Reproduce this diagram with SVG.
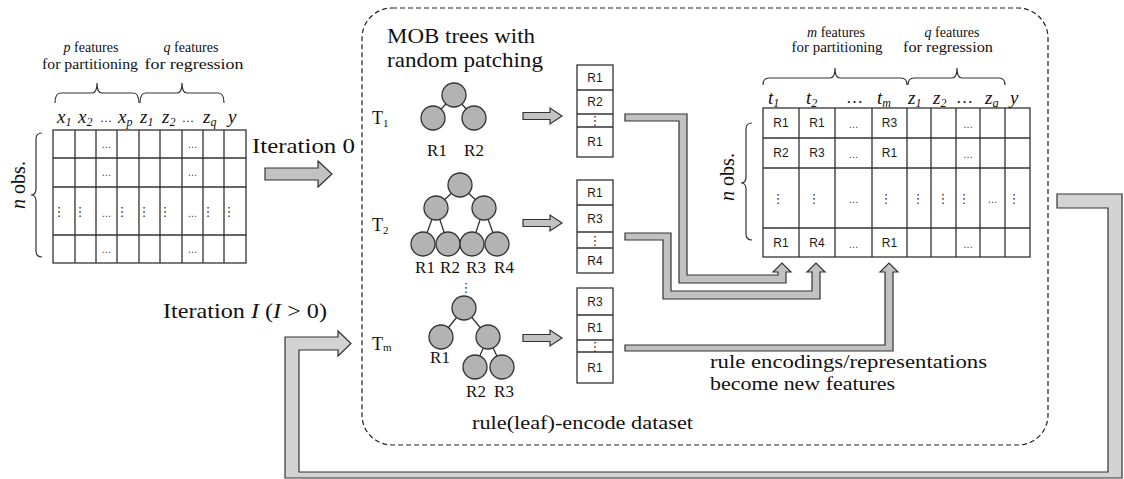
<svg xmlns="http://www.w3.org/2000/svg" width="1124" height="479" viewBox="0 0 1124 479">
<style>
.cell{fill:#fff;stroke:#333;stroke-width:1.3}
.ln{stroke:#333;stroke-width:1.3;fill:none}
.serif{font-family:"Liberation Serif","Times New Roman",serif;fill:#111}
.it{font-style:italic}
.mid{text-anchor:middle}
.sans{font-family:"Liberation Sans",Arial,sans-serif;fill:#1a1a1a;font-size:12px;text-anchor:middle}
.dots{font-family:"Liberation Sans",Arial,sans-serif;font-size:10px;text-anchor:middle;fill:#333}
.vd{font-family:"DejaVu Sans",sans-serif;font-size:13px;text-anchor:middle;fill:#333}
.brace{fill:none;stroke:#333;stroke-width:1.2}
.node{fill:#b3b3b3;stroke:#333;stroke-width:1.3}
.edge{stroke:#333;stroke-width:1.3}
.pipe{fill:#c2c2c2;stroke:#333;stroke-width:1.2}
.loop{fill:#d3d3d3;stroke:#333;stroke-width:1.2}
.frame{fill:none;stroke:#222;stroke-width:1.2;stroke-dasharray:5 3}
</style>

<!-- dashed frame -->
<g id="encode-frame">
<rect class="frame" x="362" y="8" width="686" height="437" rx="30" ry="30"/>
<text class="serif" font-size="22" x="387" y="43" textLength="148" lengthAdjust="spacingAndGlyphs">MOB trees with</text>
<text class="serif" font-size="22" x="387" y="67" textLength="156" lengthAdjust="spacingAndGlyphs">random patching</text>
<text class="serif" font-size="18" x="472" y="429" textLength="221" lengthAdjust="spacingAndGlyphs">rule(leaf)-encode dataset</text>
</g>

<!-- input table -->
<g id="input-table">
<text class="serif mid" font-size="14" x="91" y="52"><tspan class="it">p</tspan> features</text>
<text class="serif mid" font-size="14" x="90" y="69" textLength="96" lengthAdjust="spacingAndGlyphs">for partitioning</text>
<text class="serif mid" font-size="14" x="191" y="52"><tspan class="it">q</tspan> features</text>
<text class="serif mid" font-size="14" x="194" y="69" textLength="99" lengthAdjust="spacingAndGlyphs">for regression</text>
<path class="brace" d="M55 103Q55 93 61 93L92 93Q97 93 97 83Q97 93 102 93L133 93Q139 93 139 103"/>
<path class="brace" d="M140 103Q140 93 146 93L177 93Q182 93 182 83Q182 93 187 93L218 93Q224 93 224 103"/>
<g class="serif it" font-size="19">
<text x="57" y="123">x<tspan font-size="12" dy="3">1</tspan></text>
<text x="78" y="123">x<tspan font-size="12" dy="3">2</tspan></text>
<text x="118" y="123">x<tspan font-size="12" dy="3">p</tspan></text>
<text x="140" y="123">z<tspan font-size="12" dy="3">1</tspan></text>
<text x="162" y="123">z<tspan font-size="12" dy="3">2</tspan></text>
<text x="203" y="123">z<tspan font-size="12" dy="3">q</tspan></text>
<text x="228" y="123">y</text>
</g>
<text class="serif" font-size="12" x="100" y="122">…</text>
<text class="serif" font-size="12" x="182" y="122">…</text>
<text class="serif" font-size="20" transform="translate(25,185) rotate(-90)" text-anchor="middle"><tspan class="it">n</tspan> obs.</text>
<path class="brace" d="M42 133Q36 133 36 139L36 189Q36 195 31 195Q36 195 36 201L36 251Q36 257 42 257"/>
<rect class="cell" x="53" y="130" width="193" height="133"/>
<path class="ln" d="M75 130V263M96 130V263M117 130V263M139 130V263M160 130V263M182 130V263M203 130V263M224 130V263M53 158H246M53 187H246M53 235H246"/>
<g class="dots">
<text x="106.5" y="148">…</text><text x="192.5" y="148">…</text>
<text x="106.5" y="176">…</text><text x="192.5" y="176">…</text>
<text x="106.5" y="217">…</text><text x="192.5" y="217">…</text>
<text x="106.5" y="253">…</text><text x="192.5" y="253">…</text>
</g>
<g class="vd">
<text x="59" y="216">⋮</text><text x="80" y="216">⋮</text><text x="122" y="216">⋮</text><text x="144" y="216">⋮</text>
<text x="165" y="216">⋮</text><text x="208" y="216">⋮</text><text x="229" y="216">⋮</text>
</g>
</g>

<!-- iteration labels -->
<g id="iteration-0">
<text class="serif" font-size="21" x="252" y="153" textLength="103" lengthAdjust="spacingAndGlyphs">Iteration 0</text>
</g>
<g id="iteration-I">
<text class="serif" font-size="21" x="163" y="318" textLength="164" lengthAdjust="spacingAndGlyphs">Iteration <tspan class="it">I</tspan> (<tspan class="it">I</tspan> &gt; 0)</text>
</g>

<!-- tree 1 -->
<g id="tree-1">
<text class="serif" font-size="18" x="372" y="124">T<tspan font-size="11" dy="3">1</tspan></text>
<path class="edge" d="M454 95L433 118M454 95L474 118"/>
<circle class="node" cx="454" cy="95" r="12"/>
<circle class="node" cx="433" cy="118" r="12"/>
<circle class="node" cx="474" cy="118" r="12"/>
<text class="serif mid" font-size="17" x="437" y="156">R1</text>
<text class="serif mid" font-size="17" x="474" y="156">R2</text>
</g>

<!-- tree 2 -->
<g id="tree-2">
<text class="serif" font-size="18" x="372" y="231">T<tspan font-size="11" dy="3">2</tspan></text>
<path class="edge" d="M460 185L436 208M460 185L484 208M436 208L423 244M436 208L448 244M484 208L472 244M484 208L497 244"/>
<circle class="node" cx="460" cy="185" r="12"/>
<circle class="node" cx="436" cy="208" r="12"/>
<circle class="node" cx="484" cy="208" r="12"/>
<circle class="node" cx="423" cy="244" r="12"/>
<circle class="node" cx="448" cy="244" r="12"/>
<circle class="node" cx="472" cy="244" r="12"/>
<circle class="node" cx="497" cy="244" r="12"/>
<text class="serif mid" font-size="17" x="425" y="273">R1</text>
<text class="serif mid" font-size="17" x="450" y="273">R2</text>
<text class="serif mid" font-size="17" x="476" y="273">R3</text>
<text class="serif mid" font-size="17" x="504" y="273">R4</text>
<text class="vd" x="466" y="292">⋮</text>
</g>

<!-- tree m -->
<g id="tree-m">
<text class="serif" font-size="18" x="372" y="350">T<tspan font-size="11" dy="1">m</tspan></text>
<path class="edge" d="M464 308L441 337M464 308L488 337M488 337L475 367M488 337L502 367"/>
<circle class="node" cx="464" cy="308" r="12"/>
<circle class="node" cx="441" cy="337" r="12"/>
<circle class="node" cx="488" cy="337" r="12"/>
<circle class="node" cx="475" cy="367" r="12"/>
<circle class="node" cx="502" cy="367" r="12"/>
<text class="serif mid" font-size="17" x="440" y="363">R1</text>
<text class="serif mid" font-size="17" x="476" y="397">R2</text>
<text class="serif mid" font-size="17" x="504" y="397">R3</text>
</g>

<!-- encoded vectors -->
<g id="vector-1">
<rect class="cell" x="577" y="65" width="36" height="92"/>
<path class="ln" d="M577 90H613M577 114H613M577 127H613"/>
<text class="sans" x="595" y="82">R1</text>
<text class="sans" x="595" y="106">R2</text>
<text class="vd" font-size="10" x="595" y="124.5">⋮</text>
<text class="sans" x="595" y="146">R1</text>
</g>
<g id="vector-2">
<rect class="cell" x="577" y="180" width="36" height="93"/>
<path class="ln" d="M577 205H613M577 232H613M577 248H613"/>
<text class="sans" x="595" y="197">R1</text>
<text class="sans" x="595" y="223">R3</text>
<text class="vd" font-size="10" x="595" y="244.5">⋮</text>
<text class="sans" x="595" y="265">R4</text>
</g>
<g id="vector-m">
<rect class="cell" x="577" y="288" width="36" height="95"/>
<path class="ln" d="M577 315H613M577 340H613M577 352H613"/>
<text class="sans" x="595" y="306">R3</text>
<text class="sans" x="595" y="332">R1</text>
<text class="vd" font-size="10" x="595" y="350.5">⋮</text>
<text class="sans" x="595" y="372">R1</text>
</g>

<!-- encoded table -->
<g id="encoded-table">
<text class="serif mid" font-size="14" x="836" y="37"><tspan class="it">m</tspan> features</text>
<text class="serif mid" font-size="14" x="837" y="52" textLength="91" lengthAdjust="spacingAndGlyphs">for partitioning</text>
<text class="serif mid" font-size="14" x="952" y="37"><tspan class="it">q</tspan> features</text>
<text class="serif mid" font-size="14" x="948" y="52" textLength="90" lengthAdjust="spacingAndGlyphs">for regression</text>
<path class="brace" d="M763 85Q763 78 769 78L830 78Q835 78 835 68Q835 78 840 78L901 78Q907 78 907 85"/>
<path class="brace" d="M908 85Q908 78 914 78L952 78Q957 78 957 68Q957 78 962 78L999 78Q1005 78 1005 85"/>
<g class="serif it" font-size="19">
<text x="768" y="104">t<tspan font-size="12" dy="3">1</tspan></text>
<text x="806" y="104">t<tspan font-size="12" dy="3">2</tspan></text>
<text x="877" y="104">t<tspan font-size="12" dy="3">m</tspan></text>
<text x="908" y="104">z<tspan font-size="12" dy="3">1</tspan></text>
<text x="933" y="104">z<tspan font-size="12" dy="3">2</tspan></text>
<text x="985" y="104">z<tspan font-size="12" dy="3">q</tspan></text>
<text x="1010" y="104">y</text>
</g>
<text class="serif" font-size="17" x="846" y="103">…</text>
<text class="serif" font-size="17" x="956" y="103">…</text>
<text class="serif" font-size="20" transform="translate(734,177) rotate(-90)" text-anchor="middle"><tspan class="it">n</tspan> obs.</text>
<path class="brace" d="M752 123Q746 123 746 129L746 177Q746 183 741 183Q746 183 746 189L746 234Q746 240 752 240"/>
<rect class="cell" x="763" y="108" width="267" height="149"/>
<path class="ln" d="M799 108V257M835 108V257M872 108V257M907 108V257M931 108V257M956 108V257M980 108V257M1005 108V257M763 138H1030M763 168H1030M763 228H1030"/>
<g class="sans">
<text x="781" y="127">R1</text><text x="817" y="127">R1</text><text x="889.5" y="127">R3</text>
<text x="781" y="157">R2</text><text x="817" y="157">R3</text><text x="889.5" y="157">R1</text>
<text x="781" y="247">R1</text><text x="817" y="247">R4</text><text x="889.5" y="247">R1</text>
</g>
<g class="dots">
<text x="853.5" y="128">…</text><text x="968" y="128">…</text>
<text x="853.5" y="158">…</text><text x="968" y="158">…</text>
<text x="853.5" y="203">…</text><text x="992.5" y="203">…</text>
<text x="853.5" y="248">…</text><text x="968" y="248">…</text>
</g>
<g class="vd">
<text x="778" y="203">⋮</text><text x="814" y="203">⋮</text><text x="886" y="203">⋮</text>
<text x="918" y="203">⋮</text><text x="943" y="203">⋮</text><text x="964" y="203">⋮</text><text x="1014" y="203">⋮</text>
</g>
<text class="serif" font-size="18" x="710" y="368" textLength="277" lengthAdjust="spacingAndGlyphs">rule encodings/representations</text>
<text class="serif" font-size="18" x="710" y="390" textLength="185" lengthAdjust="spacingAndGlyphs">become new features</text>
</g>

<!-- connectors -->
<g id="connectors">
<path class="pipe" d="M265 168H318V161L332 174L318 187V180H265Z"/>
<path class="pipe" d="M523 112.5H550V108L562 116L550 124V119.5H523Z"/>
<path class="pipe" d="M523 219.5H550V215L562 223L550 231V226.5H523Z"/>
<path class="pipe" d="M523 334.5H550V330L562 338L550 346V341.5H523Z"/>
<path class="pipe" d="M625 114H687V275H778V272H773L782 263L791 272H786V283H679V121H625Z"/>
<path class="pipe" d="M625 233H671V291H812V272H807L816 263L825 272H820V299H663V240H625Z"/>
<path class="pipe" d="M625 345H885V272H880L889 263L898 272H893V351H625Z"/>
<path class="loop" d="M1057 194H1122V478H285V337H338V331L351 343.5L338 356V350H299V472H1108V208H1057Z"/>
</g>
</svg>
